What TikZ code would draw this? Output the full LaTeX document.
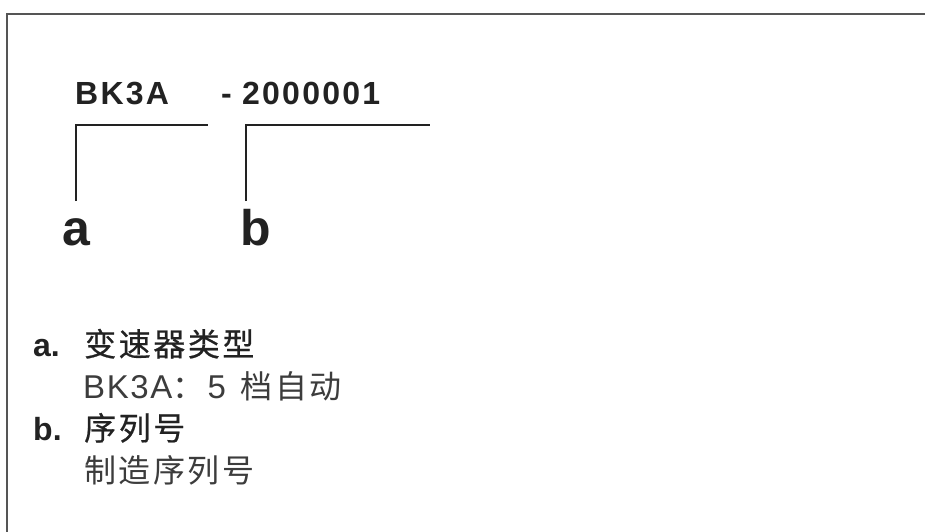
\documentclass[tikz,border=0pt]{standalone}
\usepackage{fontspec}
\setmainfont{Liberation Sans}
\newfontfamily\widefont{Liberation Sans}[LetterSpace=7]
\newfontfamily\wideregfont{Liberation Sans}[LetterSpace=5]
\newfontfamily\cjk{Noto Sans CJK SC}[LetterSpace=8]
\newfontfamily\cjkh{Noto Sans CJK SC}[LetterSpace=8,FakeBold=0.6]
\definecolor{ink}{HTML}{222222}
\definecolor{desc}{HTML}{3C3C3C}
\definecolor{framec}{HTML}{555555}
\begin{document}
\begin{tikzpicture}[x=1pt,y=-1pt,
  txt/.style={inner sep=0pt, anchor=base west, text=ink},
  head/.style={txt, font=\widefont\bfseries\fontsize{32}{38}\selectfont},
  letter/.style={txt, font=\bfseries\fontsize{50}{60}\selectfont},
  item/.style={txt, font=\bfseries\fontsize{32}{38}\selectfont},
  cjkhead/.style={txt, font=\cjkh\fontsize{32}{38}\selectfont},
  descr/.style={txt, text=desc, font=\wideregfont\fontsize{33}{38}\selectfont},
  cjkdescr/.style={txt, text=desc, font=\cjk\fontsize{32}{38}\selectfont},
  lead/.style={draw=ink, line width=1.3pt},
  framel/.style={draw=framec, line width=2pt}]
\useasboundingbox (0,0) rectangle (925,532);
\draw[framel] (7,540) -- (7,14.5) -- (935,14.5);

% code line
\node[head] (typ) at (75,104) {BK3A};
\node[head] (dash) at (221,104) {-};
\node[head] (ser) at (242,104) {2000001};

% leader labels
\node[letter] (la) at (62,245) {a};
\node[letter] (lb) at (240,245) {b};

\coordinate (a1) at (76,201);
\coordinate (a2) at (76,125);
\coordinate (a3) at (208,125);
\coordinate (b1) at (246,201);
\coordinate (b2) at (246,125);
\coordinate (b3) at (430,125);
\draw[lead] (a1) -- (a2) -- (a3);
\draw[lead] (b1) -- (b2) -- (b3);

% legend
\node[item] (ia) at (33,356) {a.};
\node[cjkhead] (ha) at (84,356) {变速器类型};
\node[descr] (da) at (83,398) {BK3A{\cjk\fontsize{32}{38}\selectfont ：}\hspace{3pt}5\hspace{4pt} {\cjk\fontsize{32}{38}\selectfont 档自动}};
\node[item] (ib) at (33,440) {b.};
\node[cjkhead] (hb) at (84,440) {序列号};
\node[cjkdescr] (db) at (84,482) {制造序列号};
\end{tikzpicture}
\end{document}
